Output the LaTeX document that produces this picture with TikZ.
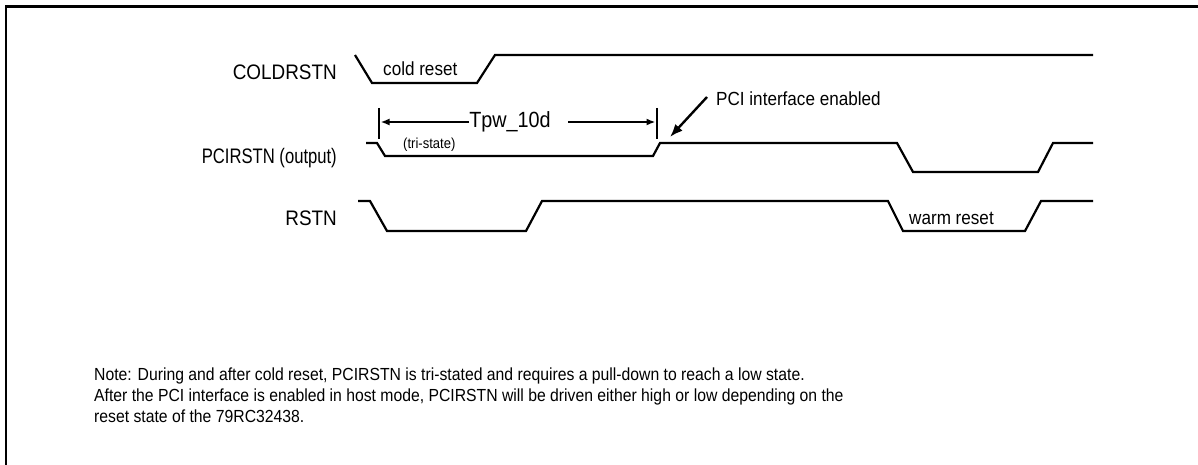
\documentclass[tikz,border=0pt]{standalone}
\usepackage{fontspec}
\usepackage{graphicx}
\setmainfont[FakeStretch=0.9]{Liberation Sans}
\usetikzlibrary{arrows.meta}
\begin{document}
\begin{tikzpicture}[x=1pt,y=-1pt,
  sig/.style={line width=2.2pt, line join=miter},
  lbl/.style={font=\fontsize{21}{24}\selectfont, anchor=east, inner sep=0pt},
  ann/.style={font=\fontsize{19}{22}\selectfont, inner sep=0pt, anchor=west},
  small/.style={font=\fontsize{17.5}{20}\selectfont, inner sep=0pt, anchor=base west},
  bar/.style={line width=2.8pt},
  meas/.style={line width=2.2pt, -{Latex[length=9pt,width=7pt]}},
  callout/.style={line width=2.4pt, -{Latex[length=13pt,width=10pt]}},
]
\fill[white] (0,0) rectangle (1198,465);
\useasboundingbox (0,0) rectangle (1198,465);
\draw[line width=2.6pt] (6,465) -- (6,6.5) -- (1198,6.5);

% signal names
\node[lbl] (coldlbl) at (337,72) {COLDRSTN};
\node[lbl] (pcilbl) at (337,158) {\scalebox{0.88}[1]{PCIRSTN (output)}};
\node[lbl] (rstnlbl) at (337,218) {RSTN};

% waveforms
\draw[sig] (355,55) -- (372,83) -- (477,83) -- (495,55) -- (1093,55);
\draw[sig] (366,143) -- (377,143) -- (385,156) -- (653,156) -- (660,143) -- (897,143) -- (913,172) -- (1038,172) -- (1053,143) -- (1093,143);
\draw[sig] (358,201) -- (370,201) -- (387,231) -- (526,231) -- (542,201) -- (888,201) -- (903,231) -- (1025,231) -- (1041,201) -- (1093,201);

% labels on waveforms
\node[ann] (cold) at (383,69) {cold reset};
\node[ann] (warm) at (909,218) {warm reset};
\node[font=\fontsize{14.5}{17}\selectfont, inner sep=0pt, anchor=west] (tri) at (403,145) {(tri-state)};

% Tpw_10d measurement
\node[font=\fontsize{22}{24}\selectfont, inner sep=0pt] (tpw) at (510,122) {Tpw\_10d};
\coordinate (lbt) at (379,108); \coordinate (lbb) at (379,139);
\coordinate (rbt) at (657,108); \coordinate (rbb) at (657,139);
\draw[bar] (lbt) -- (lbb);
\draw[bar] (rbt) -- (rbb);
\coordinate (lb) at (380.5,122);
\coordinate (rb) at (655.5,122);
\coordinate (tpwr) at (568,122);
\draw[meas] (tpw.west) -- (lb);
\draw[meas] (tpwr) -- (rb);

% PCI interface enabled
\node[ann] (pcien) at (716,99) {PCI interface enabled};
\coordinate (enfrom) at (707,97);
\coordinate (entip) at (670,137);
\draw[callout] (enfrom) -- (entip);

% note
\node[small] (note1) at (94,380) {Note: During and after cold reset, PCIRSTN is tri-stated and requires a pull-down to reach a low state.};
\node[small] (note2) at (94,401) {After the PCI interface is enabled in host mode, PCIRSTN will be driven either high or low depending on the};
\node[small] (note3) at (94,422) {reset state of the 79RC32438.};
\end{tikzpicture}
\end{document}
